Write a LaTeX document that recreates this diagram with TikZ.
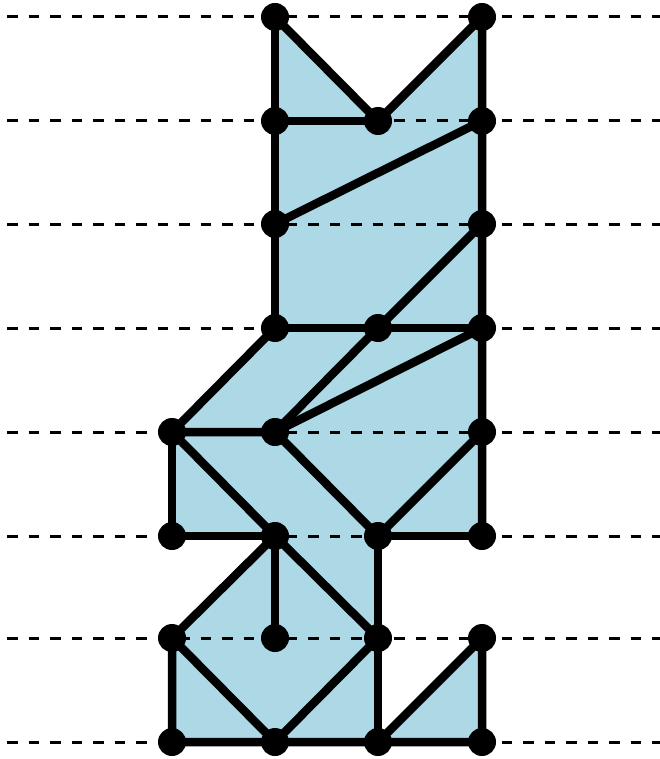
\documentclass[tikz,border=0pt]{standalone}
\definecolor{lblue}{RGB}{173,216,230}
\tikzset{
  edge/.style={line width=8.5pt, line cap=round, line join=round},
  guide/.style={line width=3pt, dash pattern=on 10.7pt off 10.8pt},
  region/.style={fill=lblue},
  vdot/.style={circle, fill=black, inner sep=0pt, minimum size=28pt}
}
\begin{document}
\begin{tikzpicture}[x=1pt,y=-1pt]
\useasboundingbox (0,0) rectangle (660,759);
% grid coordinates
\def\xa{172}\def\xb{275}\def\xc{378}\def\xd{482}
\foreach \r/\y in {0/17,1/121,2/224,3/328,4/432,5/536,6/638,7/742}{
  \coordinate (L\r) at (7,\y);
  \coordinate (R\r) at (662,\y);
  \coordinate (a\r) at (\xa,\y);
  \coordinate (b\r) at (\xb,\y);
  \coordinate (c\r) at (\xc,\y);
  \coordinate (d\r) at (\xd,\y);
}
% filled regions
\fill[region] (b0) -- (c1) -- (d0) -- (d5) -- (c5) -- (c7) -- (a7) -- (a6) -- (b5) -- (a5) -- (a4) -- (b3) -- cycle;
\fill[region] (c7) -- (d6) -- (d7) -- cycle;
% dashed guides
\foreach \r in {0,...,7}{ \draw[guide] (L\r) -- (R\r); }
% edges
\draw[edge] (b0) -- (b3);
\draw[edge] (b0) -- (c1) -- (d0) -- (d5);
\draw[edge] (b1) -- (c1);
\draw[edge] (b2) -- (d1);
\draw[edge] (d2) -- (c3) -- (b4);
\draw[edge] (b3) -- (d3);
\draw[edge] (b3) -- (a4) -- (b4);
\draw[edge] (b4) -- (d3);
\draw[edge] (a4) -- (a5) -- (b5);
\draw[edge] (a4) -- (b5) -- (c6);
\draw[edge] (b4) -- (c5) -- (d4);
\draw[edge] (c5) -- (d5);
\draw[edge] (b5) -- (a6) -- (a7) -- (d7) -- (d6) -- (c7);
\draw[edge] (b5) -- (b6);
\draw[edge] (c5) -- (c7);
\draw[edge] (a6) -- (b7) -- (c6);
% vertices
\foreach \p in {b0,d0,b1,c1,d1,b2,d2,b3,c3,d3,a4,b4,d4,a5,b5,c5,d5,a6,b6,c6,d6,a7,b7,c7,d7}{
  \node[vdot] (v\p) at (\p) {};
}
\end{tikzpicture}
\end{document}
